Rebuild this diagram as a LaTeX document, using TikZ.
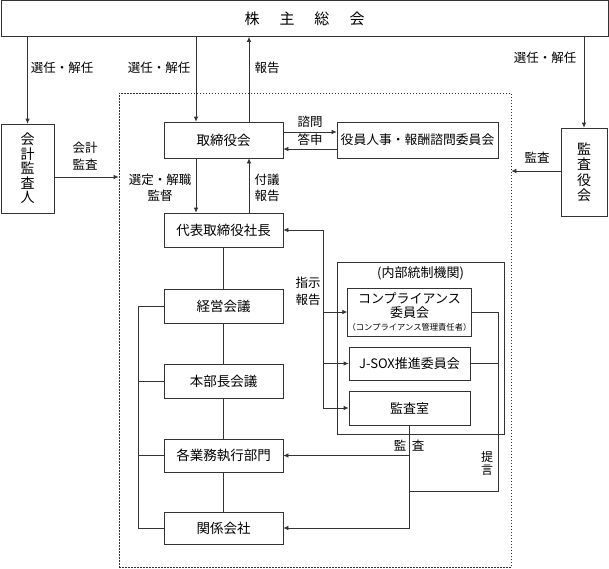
\documentclass[tikz,border=0pt]{standalone}
\usepackage{fontspec}
\setmainfont{Noto Sans CJK JP}
\usetikzlibrary{arrows.meta}
\definecolor{lncol}{HTML}{333333}
\begin{document}
\begin{tikzpicture}[x=1pt,y=-1pt,
  box/.style={draw=lncol, line width=0.7pt, inner sep=0pt, font=\fontsize{13.5}{16}\selectfont},
  lbl/.style={inner sep=0pt, font=\fontsize{12.5}{16}\selectfont, align=center},
  conn/.style={draw=lncol, line width=0.7pt},
  arr/.style={draw=lncol, line width=0.7pt, -{Latex[length=5pt,width=4.5pt]}}]
\useasboundingbox (0,0) rectangle (609,568);
% boxes
\node[box, minimum width=607pt, minimum height=36pt, font=\fontsize{15}{18}\selectfont] (gm) at (304.5,18.5) {株\hspace{20pt}主\hspace{20pt}総\hspace{20pt}会};
\node[draw=lncol, line width=0.7pt, dash pattern=on 1.5pt off 1.5pt, minimum width=392pt, minimum height=474pt, inner sep=0pt] (corp) at (315,330) {};
\node[box, minimum width=53pt, minimum height=89pt, align=center, font=\fontsize{14}{14.5}\selectfont] (kaikei) at (27.5,168.5) {会\\計\\監\\査\\人};
\node[box, minimum width=46pt, minimum height=88pt, align=center, font=\fontsize{14}{15.5}\selectfont] (kansayaku) at (584,172) {監\\査\\役\\会};
\node[box, minimum width=119pt, minimum height=36pt] (tori) at (223.5,140) {取締役会};
\node[box, minimum width=161pt, minimum height=36pt, font=\fontsize{12.8}{16}\selectfont] (yakuin) at (417.5,140) {役員人事・報酬諮問委員会};
\node[box, minimum width=119pt, minimum height=34pt] (daihyo) at (223.5,230) {代表取締役社長};
\node[box, minimum width=119pt, minimum height=34pt] (keiei) at (223.5,306) {経営会議};
\node[box, minimum width=119pt, minimum height=34pt] (honbucho) at (223.5,381) {本部長会議};
\node[box, minimum width=119pt, minimum height=33pt] (kakugyo) at (223.5,455.5) {各業務執行部門};
\node[box, minimum width=119pt, minimum height=32pt] (kankei) at (223.5,528) {関係会社};
\node[box, minimum width=167pt, minimum height=172pt] (naibu) at (420.5,348) {};
\node[lbl, font=\fontsize{13}{16}\selectfont] (naibulbl) at (420.5,273) {(内部統制機関)};
\node[box, minimum width=121pt, minimum height=48pt, align=center, font=\fontsize{13}{14}\selectfont] (comp) at (409.5,312) {コンプライアンス\\委員会\\[-1pt]{\fontsize{8.3}{10}\selectfont （コンプライアンス管理責任者）}};
\node[box, minimum width=121pt, minimum height=33pt, font=\fontsize{13}{16}\selectfont] (jsox) at (409.5,363.5) {J-SOX推進委員会};
\node[box, minimum width=121pt, minimum height=34pt, font=\fontsize{13}{16}\selectfont] (kansashitsu) at (409.5,408) {監査室};
% labels
\node[lbl] (l1) at (62,68) {選任・解任};
\node[lbl] (l2) at (159,68) {選任・解任};
\node[lbl] (l3) at (267,68) {報告};
\node[lbl] (l4) at (545,58) {選任・解任};
\node[lbl, font=\fontsize{12.5}{17}\selectfont] (l5) at (85,156.5) {会計\\監査};
\node[lbl] (l6) at (310,122) {諮問};
\node[lbl] (l7) at (310,140) {答申};
\node[lbl] (l8) at (537,158) {監査};
\node[lbl] (l9) at (160,188) {選定・解職\\監督};
\node[lbl] (l10) at (267,188) {付議\\報告};
\node[lbl, font=\fontsize{12.5}{17}\selectfont] (l11) at (308,291.5) {指示\\報告};
\node[lbl] (l12) at (400,446) {監};
\node[lbl] (l13) at (418,446) {査};
\node[lbl, font=\fontsize{12}{13}\selectfont] (l14) at (487,463.5) {提\\言};
% coordinates
\coordinate (c1) at (196,0);
\coordinate (c2) at (249,0);
\coordinate (r177) at (0,177);
\coordinate (r171) at (0,171);
\coordinate (r132) at (0,132);
\coordinate (r149) at (0,149);
\coordinate (bx) at (138,0);
\coordinate (vx) at (323,0);
\coordinate (rx) at (498,0);
\coordinate (r491) at (0,491);
% connectors
\draw[arr] (gm.south -| kaikei.north) -- (kaikei.north);
\draw[arr] (gm.south -| c1) -- (tori.north -| c1);
\draw[arr] (tori.north -| c2) -- (gm.south -| c2);
\draw[arr] (gm.south -| kansayaku.north) -- (kansayaku.north);
\draw[arr] (kaikei.east |- r177) -- (corp.west |- r177);
\draw[arr] (kansayaku.west |- r171) -- (corp.east |- r171);
\draw[arr] (tori.east |- r132) -- (yakuin.west |- r132);
\draw[arr] (yakuin.west |- r149) -- (tori.east |- r149);
\draw[arr] (tori.south -| c1) -- (daihyo.north -| c1);
\draw[arr] (daihyo.north -| c2) -- (tori.south -| c2);
\draw[conn] (daihyo.south) -- (keiei.north);
\draw[conn] (keiei.south) -- (honbucho.north);
\draw[conn] (honbucho.south) -- (kakugyo.north);
\draw[conn] (kakugyo.south) -- (kankei.north);
\draw[conn] (keiei.west) -- (keiei.west -| bx) -- (kankei.west -| bx) -- (kankei.west);
\draw[conn] (honbucho.west) -- (honbucho.west -| bx);
\draw[conn] (kakugyo.west) -- (kakugyo.west -| bx);
\draw[arr] (kansashitsu.west -| vx) -- (daihyo.east -| vx) -- (daihyo.east);
\draw[arr] (comp.west -| vx) -- (comp.west);
\draw[arr] (jsox.west -| vx) -- (jsox.west);
\draw[arr] (kansashitsu.west -| vx) -- (kansashitsu.west);
\draw[conn] (comp.east) -- (comp.east -| rx) -- (rx |- r491) -- (kansashitsu.south |- r491);
\draw[conn] (jsox.east) -- (jsox.east -| rx);
\draw[conn] (kansashitsu.south) -- (kansashitsu.south |- kankei.east);
\draw[arr] (kansashitsu.south |- kakugyo.east) -- (kakugyo.east);
\draw[arr] (kansashitsu.south |- kankei.east) -- (kankei.east);
\end{tikzpicture}
\end{document}
